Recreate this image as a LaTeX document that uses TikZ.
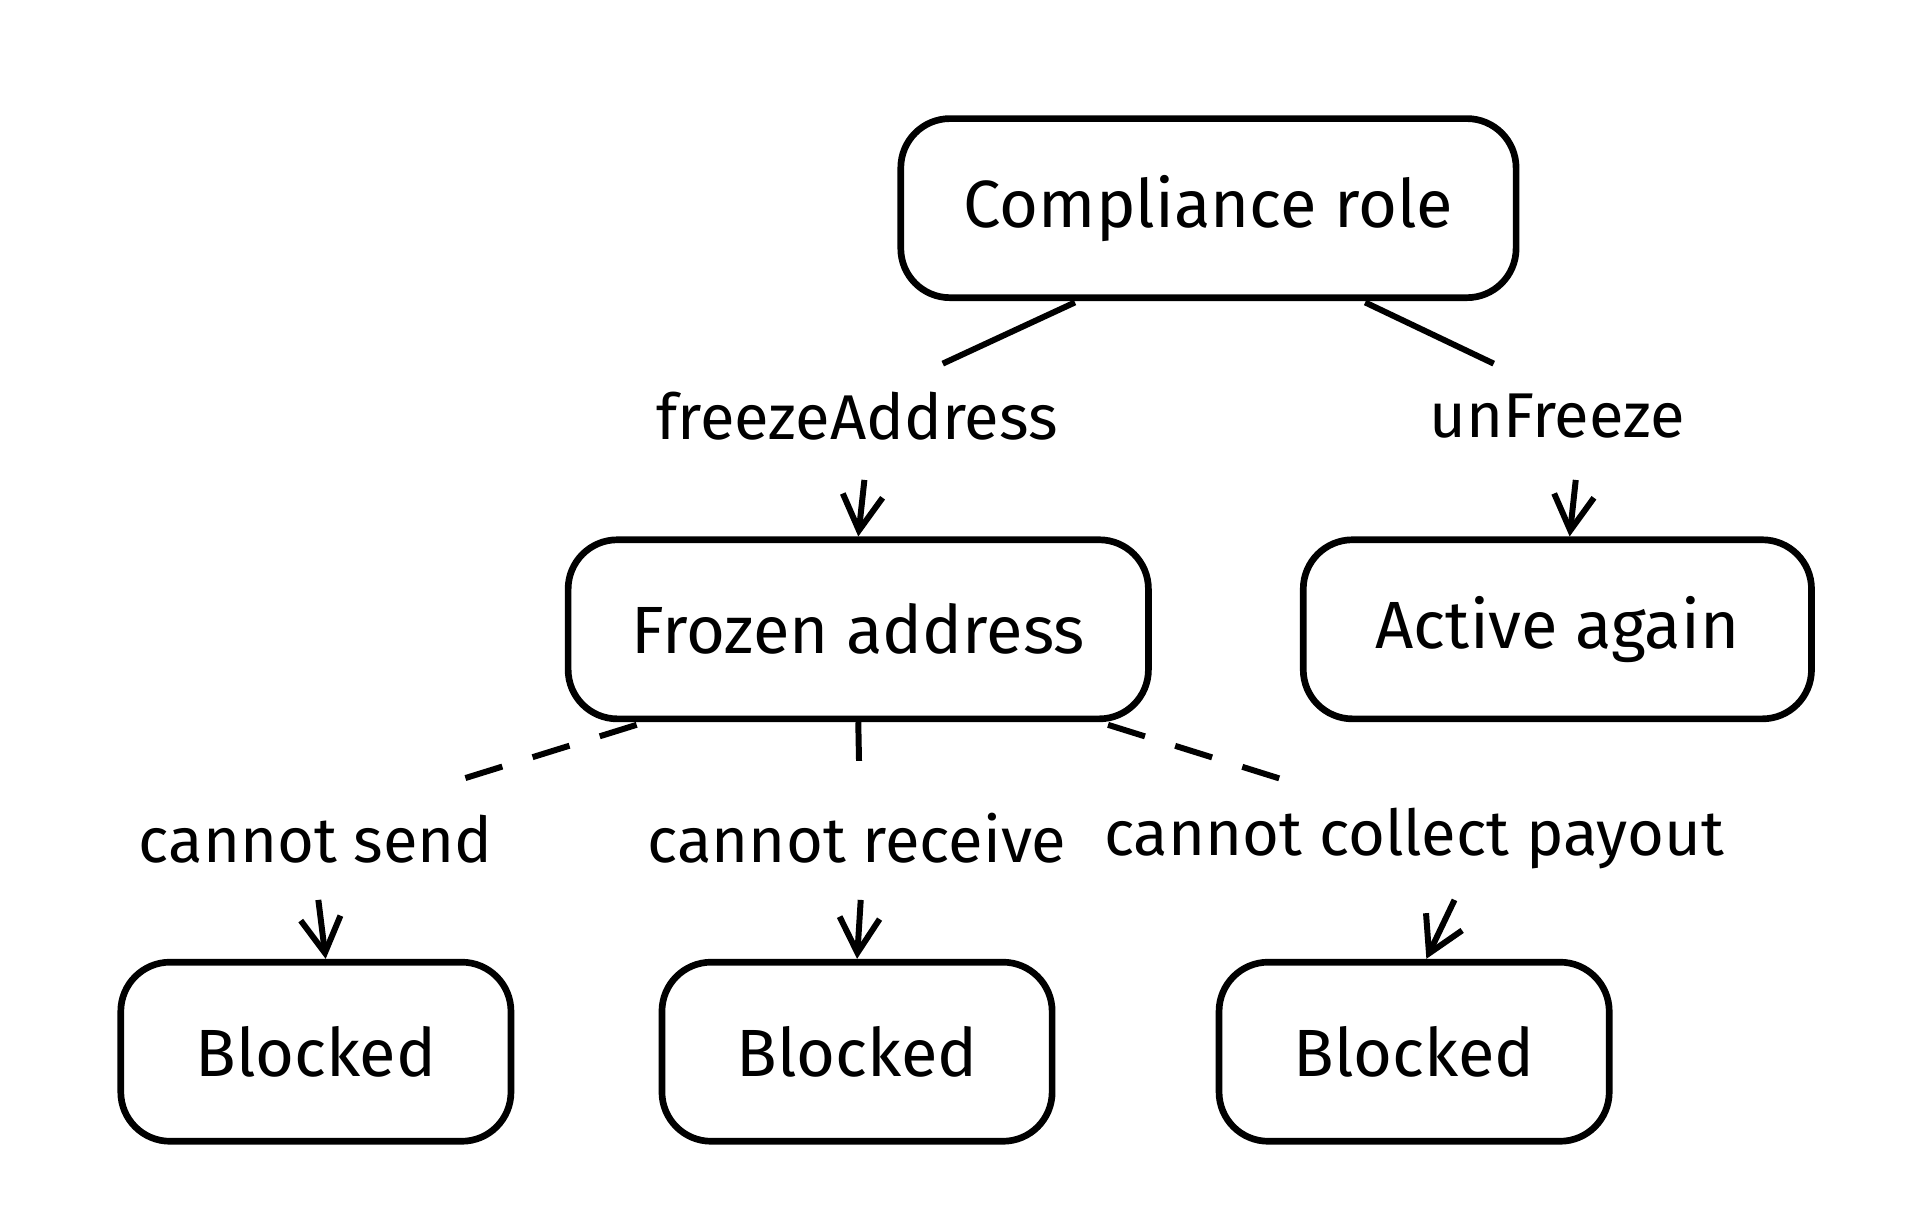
\documentclass[tikz,border=0pt]{standalone}
\usepackage{fontspec}
\setmainfont{Fira Sans}
\usetikzlibrary{positioning, arrows.meta}

\tikzset{
    box/.style={draw, line width=1.9pt, rounded corners=14pt, minimum height=1.79cm, font=\fontsize{19}{23}\selectfont},
    lbl/.style={fill=white, inner sep=2pt, font=\fontsize{18}{22}\selectfont},
    edge/.style={line width=1.7pt},
    arr/.style={edge, -{Straight Barb[length=3.5mm, width=4mm]}},
    dsh/.style={edge, dash pattern=on 11pt off 9pt},
}

\begin{document}
\begin{tikzpicture}[x=0.012244cm, y=-0.012244cm]
        \useasboundingbox (0,0) rectangle (1560,991.5);

        % boxes
        \node[box, minimum width=6.15cm] (cr) at (987,170) {Compliance role};
        \node[box, minimum width=5.8cm] (fa) at (701,514) {Frozen address};
        \node[box, minimum width=5.08cm] (aa) at (1272,514) {Active again};
        \node[box, minimum width=3.9cm] (b1) at (258,859) {Blocked};
        \node[box, minimum width=3.9cm] (b2) at (700,859) {Blocked};
        \node[box, minimum width=3.9cm] (b3) at (1155,859) {Blocked};

        % labels
        \node[lbl] (lfr) at (700,340) {freezeAddress};
        \node[lbl] (lun) at (1272,340) {unFreeze};
        \node[lbl] (ls1) at (258,685) {cannot send};
        \node[lbl] (ls2) at (700,685) {cannot receive};
        \node[lbl] (ls3) at (1155,685) {cannot collect payout};

        % compliance edges
        \coordinate (c1) at (878,247);
        \coordinate (c2) at (1115,247);
        \coordinate (e1) at (770,297);
        \coordinate (e2) at (1220,297);
        \coordinate (s1) at (706,392);
        \coordinate (s2) at (1287,392);
        \draw[edge] (c1) -- (e1);
        \draw[arr] (s1) -- (fa.north);
        \draw[edge] (c2) -- (e2);
        \draw[arr] (s2) -- (aa.north -| 1282,0);

        % frozen edges
        \coordinate (f1) at (520,592);
        \coordinate (f3) at (905,592);
        \coordinate (g1) at (372,638);
        \coordinate (g2) at (702,642);
        \coordinate (g3) at (1052,638);
        \coordinate (h1) at (260,735);
        \coordinate (h2) at (703,735);
        \coordinate (h3) at (1188,735);
        \draw[dsh] (f1) -- (g1);
        \draw[arr] (h1) -- (b1.north -| 266,0);
        \draw[dsh] (fa.south) -- (g2);
        \draw[arr] (h2) -- (b2.north);
        \draw[dsh] (f3) -- (g3);
        \draw[arr] (h3) -- (b3.north -| 1165,0);
\end{tikzpicture}
\end{document}
